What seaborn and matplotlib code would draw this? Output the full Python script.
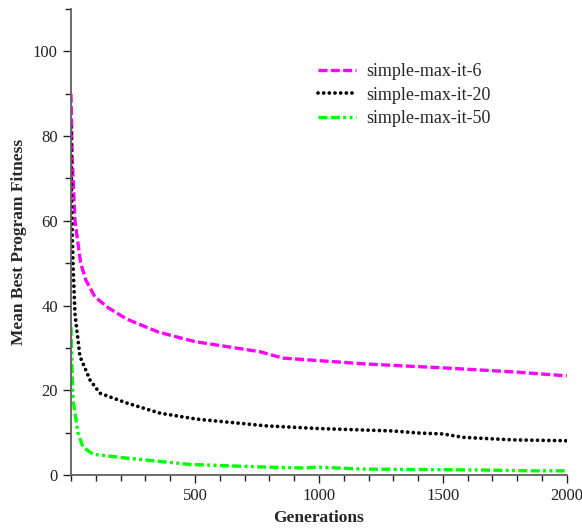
import numpy as np
import pandas as pd
import matplotlib
matplotlib.use("Agg")
import matplotlib.pyplot as plt
import seaborn as sns
from matplotlib.ticker import MultipleLocator

# values
gen_6 = [0, 5, 16, 39, 60, 97, 150, 225, 300, 350, 446, 500, 762, 855, 1000, 1193, 1500, 1798, 2000]
fit_6 = [90, 75, 60, 50, 46, 42, 39.5, 36.8, 35, 33.8, 32.3, 31.5, 29.1, 27.6, 27.0, 26.2, 25.3, 24.3, 23.4]

gen_20 = [0, 3, 8, 16, 36, 77, 117, 225, 359, 507, 789, 990, 1298, 1407, 1500, 1581, 1783, 2000]
fit_20 = [82, 62, 50, 38, 28, 22.4, 19.3, 17.0, 14.6, 13.2, 11.6, 11.0, 10.4, 9.9, 9.7, 8.9, 8.3, 8.1]

gen_50 = [0, 8, 28, 48, 89, 225, 480, 775, 950, 990, 1178, 1650, 1850, 2000]
fit_50 = [35, 17.7, 10, 6.6, 4.9, 4.0, 2.5, 1.9, 1.65, 1.9, 1.4, 1.2, 1.0, 1.0]

labels = ["simple-max-it-6", "simple-max-it-20", "simple-max-it-50"]
colors = ["#ff00ff", "#000000", "#00ff00"]
widths = [2.4, 2.7, 2.4]
dashes = [(2.7, 1.0), (0.01, 1.5), (2.7, 1.0, 2.7, 1.0, 0.9, 1.0, 0.9, 1.0)]
caps = ["butt", "round", "butt"]

df = pd.concat([
    pd.DataFrame({"Generations": gen_6, "Fitness": fit_6, "run": labels[0]}),
    pd.DataFrame({"Generations": gen_20, "Fitness": fit_20, "run": labels[1]}),
    pd.DataFrame({"Generations": gen_50, "Fitness": fit_50, "run": labels[2]}),
])

sns.set_style("ticks")
plt.rcParams["font.family"] = ["Liberation Serif", "DejaVu Serif"]

fig = plt.figure(figsize=(5.82, 5.29), dpi=100)
ax = fig.add_axes([0.122, 0.102, 0.852, 0.881])

for lab, col, lw, ds, cap in zip(labels, colors, widths, dashes, caps):
    sub = df[df["run"] == lab]
    sns.lineplot(data=sub, x="Generations", y="Fitness", ax=ax, color=col,
                 lw=lw, label=lab, estimator=None, sort=False)
    ax.lines[-1].set_dashes(ds)
    ax.lines[-1].set_dash_capstyle(cap)

ax.set_xlim(0, 2000)
ax.set_ylim(0, 110)
ax.set_xticks([500, 1000, 1500, 2000])
ax.xaxis.set_minor_locator(MultipleLocator(100))
ax.set_yticks([0, 20, 40, 60, 80, 100])
ax.yaxis.set_minor_locator(MultipleLocator(10))
ax.tick_params(which="major", length=6, width=1, labelsize=12, colors="#222222")
ax.tick_params(which="minor", length=4, width=1, colors="#222222")
for s in ["top", "right"]:
    ax.spines[s].set_visible(False)
for s in ["left", "bottom"]:
    ax.spines[s].set_color("#606060")
    ax.spines[s].set_linewidth(1.3)

ax.set_xlabel("Generations", fontsize=12.5, fontweight="bold")
ax.set_ylabel("Mean Best Program Fitness", fontsize=12.5, fontweight="bold")

leg = ax.legend(loc="upper left", bbox_to_anchor=(0.465, 0.918), frameon=False,
                fontsize=13, handlelength=2.1, labelspacing=0.35, handletextpad=0.6)
for h, ds, cap in zip(leg.get_lines(), dashes, caps):
    h.set_dashes(ds)
    h.set_dash_capstyle(cap)

fig.savefig("out.png", dpi=100)
